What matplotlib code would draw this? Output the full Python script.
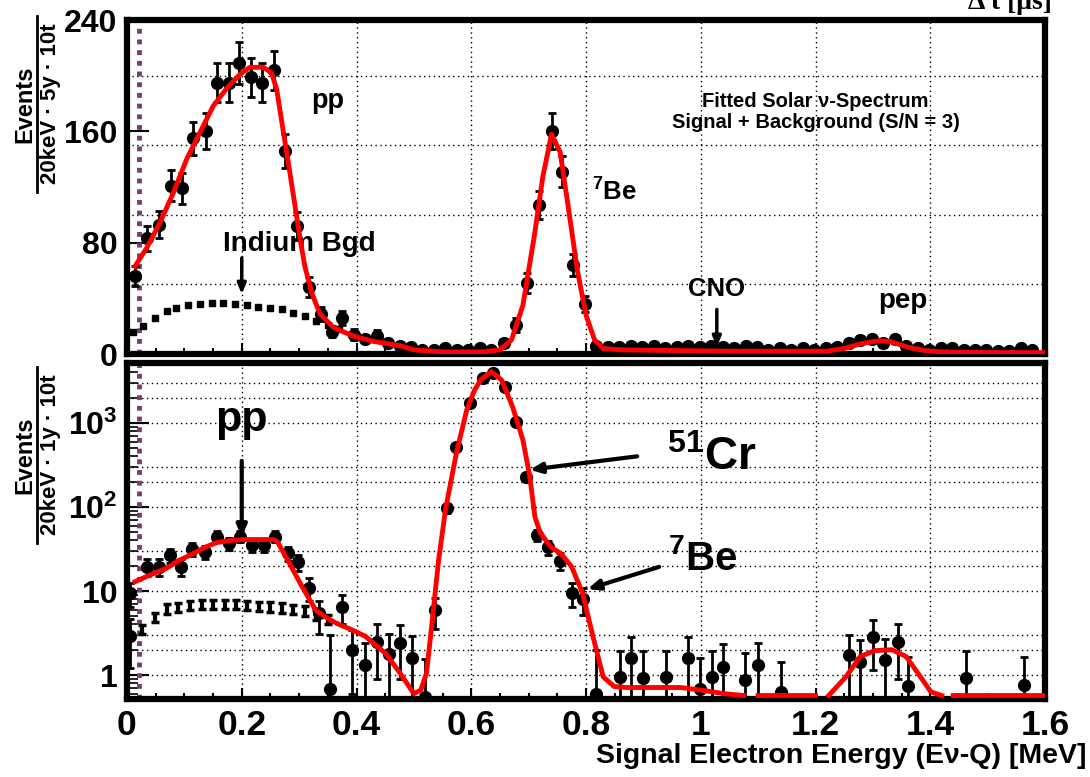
#!/usr/bin/env python3
"""Fitted solar neutrino spectrum: linear (5y) and log (1y, 51Cr source) panels."""

import matplotlib
matplotlib.use("Agg")
import matplotlib.pyplot as plt
from matplotlib.lines import Line2D
from matplotlib.ticker import MultipleLocator, FixedLocator, FixedFormatter, NullFormatter, LogLocator
import numpy as np

# ---------------- data ----------------
# top panel: events / (20 keV * 5 y * 10 t)
top_energy = [0.014, 0.034, 0.056, 0.076, 0.095, 0.115, 0.138, 0.156, 0.177, 0.196,
              0.216, 0.236, 0.256, 0.275, 0.296, 0.318, 0.338, 0.357, 0.375, 0.395,
              0.415, 0.435, 0.455, 0.475, 0.495, 0.515, 0.535, 0.555, 0.575, 0.595,
              0.615, 0.635, 0.657, 0.678, 0.698, 0.718, 0.740, 0.758, 0.778, 0.798,
              0.818, 0.838, 0.858, 0.878, 0.898, 0.918, 0.938, 0.958, 0.978, 0.998,
              1.018, 1.038, 1.058, 1.078, 1.098, 1.118, 1.138, 1.158, 1.178, 1.198,
              1.218, 1.238, 1.258, 1.278, 1.298, 1.318, 1.338, 1.358, 1.378, 1.398,
              1.418, 1.438, 1.458, 1.478, 1.498, 1.518, 1.538, 1.558, 1.578]
top_counts = [56, 83, 93, 121, 119, 155, 160, 195, 195, 209,
              199, 195, 204, 146, 92, 48, 29, 16, 26, 14,
              11, 13, 8, 6, 5, 3, 3, 4, 3, 3,
              4, 3, 8, 21, 51, 107, 160, 131, 64, 36,
              6, 5, 5, 6, 5, 6, 4, 5, 6, 5,
              6, 5, 4, 6, 5, 3, 4, 3, 4, 3,
              4, 5, 8, 10, 11, 8, 11, 6, 4, 3,
              4, 4, 3, 3, 3, 2, 2, 4, 3]
top_errors = [7, 9, 10, 11, 11, 12, 13, 14, 14, 15,
              14, 14, 14, 12, 10, 7, 5, 4, 5, 4,
              3, 4, 3, 2, 2, 2, 2, 2, 2, 2,
              2, 2, 3, 5, 7, 10, 13, 11, 8, 6,
              2, 2, 2, 2, 2, 2, 2, 2, 2, 2,
              2, 2, 2, 2, 2, 2, 2, 2, 2, 2,
              2, 2, 3, 3, 3, 3, 3, 2, 2, 2,
              2, 2, 2, 2, 2, 1, 1, 2, 2]

top_fit_energy = [0.014, 0.034, 0.057, 0.081, 0.104, 0.127, 0.15, 0.174, 0.197, 0.214,
                  0.238, 0.252, 0.261, 0.272, 0.284, 0.293, 0.302, 0.31, 0.322, 0.336,
                  0.36, 0.394, 0.43, 0.476, 0.50, 0.55, 0.62, 0.65, 0.67, 0.69,
                  0.71, 0.725, 0.74, 0.755, 0.77, 0.785, 0.80, 0.815, 0.83, 0.86,
                  0.95, 1.05, 1.15, 1.22, 1.25, 1.28, 1.31, 1.33, 1.36, 1.39,
                  1.42, 1.5, 1.6]
top_fit_counts = [63, 76, 94, 116, 140, 159, 178, 191, 201, 206,
                  206, 202, 190, 161, 130, 106, 82, 63, 44, 29,
                  19, 13, 9, 6, 3, 1.5, 1.5, 3, 10, 35,
                  85, 128, 158, 145, 103, 60, 28, 10, 4, 3,
                  2.5, 2, 2, 2, 4, 7.5, 9.5, 9, 5, 2.5,
                  1.5, 1, 1]

top_indium_energy = [0.011, 0.028, 0.048, 0.069, 0.086, 0.107, 0.127, 0.148, 0.168, 0.188,
                     0.209, 0.229, 0.249, 0.27, 0.29, 0.31, 0.33, 0.35, 0.37]
top_indium_counts = [15.7, 20, 26, 31, 33, 35, 36, 36.6, 36.6, 36,
                     35.3, 34, 33, 32, 29.7, 27, 24, 21, 18]

# bottom panel: events / (20 keV * 1 y * 10 t), with 51Cr source
bot_energy = [0.006, 0.006, 0.034, 0.055, 0.075, 0.094, 0.114, 0.136, 0.156, 0.177,
              0.197, 0.217, 0.238, 0.258, 0.28, 0.298, 0.317, 0.335, 0.353, 0.375,
              0.393, 0.415, 0.436, 0.457, 0.476, 0.497, 0.519, 0.537, 0.558, 0.574,
              0.598, 0.62, 0.638, 0.659, 0.678, 0.696, 0.714, 0.733, 0.755, 0.775,
              0.795, 0.818, 0.86, 0.878, 0.899, 0.939, 0.978, 0.999, 1.019, 1.039,
              1.077, 1.099, 1.14, 1.259, 1.278, 1.30, 1.321, 1.343, 1.361, 1.462,
              1.563]
bot_counts = [9.4, 2.9, 19.5, 19.5, 26.8, 19.5, 32, 29.4, 44.5, 37,
              44.5, 35, 35, 44.5, 28, 22, 10.8, 5.4, 0.69, 6.5,
              2.0, 1.3, 2.5, 1.8, 2.4, 1.6, 0.55, 5.9, 96, 525,
              1710, 3400, 3900, 2700, 1035, 230, 46, 33, 23, 9.5,
              8, 0.6, 0.95, 1.58, 0.91, 0.95, 1.58, 0.69, 0.95, 1.26,
              0.87, 1.31, 0.63, 1.73, 1.44, 2.86, 1.51, 2.49, 0.73, 0.91,
              0.76]
bot_errors = [3.0, 1.7, 4.4, 4.4, 5.2, 4.4, 5.7, 5.4, 6.7, 6.1,
              6.7, 5.9, 5.9, 6.7, 5.3, 4.7, 3.3, 2.3, 2.3, 2.5,
              1.4, 1.1, 1.6, 1.3, 1.5, 1.3, 1.0, 2.4, 10, 23,
              41, 58, 62, 52, 32, 15, 7, 6, 5, 3.1,
              2.8, 1.4, 1.0, 1.26, 1.0, 1.0, 1.26, 0.9, 1.0, 1.1,
              0.95, 1.1, 0.8, 1.3, 1.2, 1.7, 1.2, 1.6, 0.9, 1.0,
              0.9]

nan = float("nan")
bot_fit_energy = [0.014, 0.04, 0.069, 0.09, 0.116, 0.135, 0.156, 0.18, 0.203, 0.23,
                  0.255, 0.262, 0.28, 0.305, 0.329, 0.35, 0.366, 0.39, 0.415, 0.451,
                  0.476, 0.5, 0.512, 0.522, 0.531, 0.543, 0.555, 0.574, 0.592, 0.605,
                  0.616, 0.635, 0.653, 0.672, 0.69, 0.702, 0.711, 0.72, 0.738, 0.756,
                  0.775, 0.794, 0.812, 0.83, 0.849, 0.87, 0.92, 0.965, 1.008, 1.04,
                  1.075, nan, 1.10, 1.20, nan, 1.223, 1.253, 1.278, 1.303, 1.333,
                  1.358, 1.383, 1.401, 1.42, nan, 1.44, 1.60]
bot_fit_counts = [12.9, 15.5, 18.7, 23, 28, 33, 37.6, 40, 41, 41,
                  41, 38.7, 23.4, 11.3, 5.9, 4.7, 4.1, 3.5, 2.9, 1.8,
                  1.05, 0.6, 0.66, 1.05, 3.8, 23, 92, 437, 1420, 2400,
                  3240, 4100, 3240, 1560, 630, 230, 76, 50, 33.6, 28,
                  19.5, 9.4, 2.9, 0.95, 0.73, 0.71, 0.71, 0.71, 0.65, 0.6,
                  0.57, nan, 0.57, 0.57, nan, 0.57, 0.95, 1.66, 1.95, 2.0,
                  1.66, 0.95, 0.63, 0.57, nan, 0.57, 0.57]

bot_indium_energy = [0.027, 0.048, 0.069, 0.089, 0.11, 0.13, 0.15, 0.17, 0.19, 0.21,
                     0.23, 0.25, 0.27, 0.29, 0.31, 0.33, 0.35]
bot_indium_counts = [3.5, 4.9, 6.2, 6.4, 6.8, 7.0, 7.0, 7.0, 7.0, 6.8,
                     6.6, 6.5, 6.3, 6.1, 5.8, 5.2, 4.6]

x_ticks = [0, 0.2, 0.4, 0.6, 0.8, 1.0, 1.2, 1.4, 1.6]
x_tick_labels = ["0", "0.2", "0.4", "0.6", "0.8", "1", "1.2", "1.4", "1.6"]
top_y_ticks = [0, 80, 160, 240]
top_y_grid = [50, 100, 150, 200]
bot_y_ticks = [1, 10, 100, 1000]
bot_y_tick_labels = ["1", "10", r"$10^{2}$", r"$10^{3}$"]
bot_y_grid = [1, 2, 3, 10, 20, 30, 100, 200, 300, 1000, 2000, 3000]

W, H = 1090, 777
RED = "#ff0000"
PURPLE = "#7b3d70"
GRID_LS = (0, (1, 2.5))


def px_axes(fig, left, top, right, bottom):
    """Add axes using pixel edges measured from the top-left corner."""
    return fig.add_axes([left / W, 1 - bottom / H, (right - left) / W, (bottom - top) / H])


def style_frame(ax):
    for sp in ax.spines.values():
        sp.set_linewidth(4.5)
        sp.set_color("black")
    ax.set_xlim(0, 1.6)
    ax.xaxis.set_major_locator(FixedLocator(x_ticks))
    ax.xaxis.set_minor_locator(MultipleLocator(0.05))
    ax.tick_params(axis="x", which="major", direction="in", length=8, width=1.5,
                   top=False, labelsize=25.5, pad=7)
    ax.tick_params(axis="x", which="minor", direction="in", length=4, width=1.5, top=False)
    ax.tick_params(axis="y", which="major", direction="in", length=16, width=1.5,
                   right=False, labelsize=23, pad=7)
    ax.tick_params(axis="y", which="minor", direction="in", length=8, width=1.2, right=False)
    for x in x_ticks[1:-1]:
        ax.axvline(x, color="black", lw=1.0, ls=GRID_LS, zorder=1)
    ax.axvline(0.0215, color=PURPLE, lw=3.5, ls=(0, (1, 1.2)), zorder=2)


def y_fraction(fig, cy, denom):
    """ROOT style stacked y title: Events over the unit."""
    fig.text(25 / W, 1 - cy / H, "Events", rotation=90, ha="center", va="center", fontsize=17)
    fig.text(51 / W, 1 - cy / H, denom, rotation=90, ha="center", va="center", fontsize=16)
    half = 88
    fig.add_artist(Line2D([37 / W, 37 / W], [1 - (cy - half) / H, 1 - (cy + half) / H],
                          transform=fig.transFigure, color="black", lw=2))


def draw_top(fig):
    ax = px_axes(fig, 127, 20, 1045, 354)
    style_frame(ax)
    ax.set_ylim(0, 240)
    ax.yaxis.set_major_locator(FixedLocator(top_y_ticks))
    ax.xaxis.set_major_formatter(NullFormatter())
    for y in top_y_grid:
        ax.axhline(y, color="black", lw=1.0, ls=GRID_LS, zorder=1)

    ax.plot(top_indium_energy, top_indium_counts, ls="none", marker="s", ms=5,
            color="black", zorder=3)
    ax.errorbar(top_energy, top_counts, yerr=top_errors, fmt="o", color="black",
                ms=8.5, elinewidth=2, capsize=3, capthick=2, zorder=3, clip_on=True)
    ax.plot(top_fit_energy, top_fit_counts, color=RED, lw=3.5, zorder=4)

    ax.text(0.349, 177, "pp", fontsize=19.5, ha="center", va="baseline")
    ax.text(1.20, 177.5, "Fitted Solar ν-Spectrum", fontsize=14.5, ha="center", va="baseline")
    ax.text(1.20, 162.5, "Signal + Background (S/N = 3)", fontsize=14.5, ha="center", va="baseline")
    ax.text(0.81, 110, r"$^{7}$Be", fontsize=18.5, ha="left", va="baseline")
    ax.text(0.30, 74, "Indium Bgd", fontsize=20, ha="center", va="baseline")
    ax.text(1.027, 42, "CNO", fontsize=18.5, ha="center", va="baseline")
    ax.text(1.353, 33, "pep", fontsize=20, ha="center", va="baseline")
    arrow = dict(arrowstyle="-|>,head_length=0.6,head_width=0.25", lw=2.5, color="black")
    ax.annotate("", xy=(0.2, 41), xytext=(0.2, 71), arrowprops=arrow)
    ax.annotate("", xy=(1.028, 3), xytext=(1.028, 34), arrowprops=arrow)
    return ax


def draw_bottom(fig):
    ax = px_axes(fig, 127, 363, 1045, 699)
    ax.set_yscale("log")
    style_frame(ax)
    ax.set_ylim(0.518, 5180)
    ax.yaxis.set_major_locator(FixedLocator(bot_y_ticks))
    ax.yaxis.set_major_formatter(FixedFormatter(bot_y_tick_labels))
    ax.yaxis.set_minor_locator(LogLocator(base=10, subs=np.arange(2, 10)))
    ax.yaxis.set_minor_formatter(NullFormatter())
    ax.set_xticklabels(x_tick_labels)
    for y in bot_y_grid:
        ax.axhline(y, color="black", lw=1.0, ls=GRID_LS, zorder=1)

    ind = np.array(bot_indium_counts)
    ax.errorbar(bot_indium_energy, ind, yerr=ind * 0.13, fmt="none", ecolor="black",
                elinewidth=3, capsize=3, capthick=2.5, zorder=3)

    n = np.array(bot_counts)
    e = np.array(bot_errors)
    lo = np.minimum(e, n * 0.99)
    ax.errorbar(bot_energy, n, yerr=[lo, e], fmt="o", color="black", ms=8.5,
                elinewidth=2, capsize=3, capthick=2, zorder=3)
    ax.plot(bot_fit_energy, bot_fit_counts, color=RED, lw=3.5, zorder=4)

    ax.text(0.2, 800, "pp", fontsize=31, ha="center", va="baseline")
    ax.text(0.941, 275, r"$^{51}$Cr", fontsize=33, ha="left", va="baseline")
    ax.text(0.943, 17.8, r"$^{7}$Be", fontsize=29, ha="left", va="baseline")
    arrow = dict(arrowstyle="-|>,head_length=0.7,head_width=0.3", lw=3, color="black")
    ax.annotate("", xy=(0.2, 40.5), xytext=(0.2, 382), arrowprops=arrow)
    ax.annotate("", xy=(0.697, 275), xytext=(0.894, 405), arrowprops=arrow)
    ax.annotate("", xy=(0.798, 10.3), xytext=(0.932, 19.8), arrowprops=arrow)
    return ax


def main():
    plt.rcParams.update({
        "font.family": ["Liberation Sans", "DejaVu Sans"],
        "font.weight": "bold",
        "mathtext.fontset": "custom",
        "mathtext.rm": "Liberation Sans:bold",
        "mathtext.bf": "Liberation Sans:bold",
        "mathtext.it": "Liberation Sans:bold",
        "mathtext.sf": "Liberation Sans:bold",
        "mathtext.default": "bf",
    })
    fig = plt.figure(figsize=(W / 100, H / 100), dpi=100)

    draw_top(fig)
    draw_bottom(fig)

    y_fraction(fig, 104, "20keV · 5y · 10t")
    y_fraction(fig, 455, "20keV · 1y · 10t")

    fig.text(1086 / W, 1 - 763 / H, "Signal Electron Energy (Eν-Q) [MeV]",
             ha="right", va="baseline", fontsize=20.5)
    fig.text(1052 / W, 1 - 9 / H, "Δ t [μs]", ha="right", va="baseline", fontsize=20,
             family=["Liberation Serif", "DejaVu Serif"])

    fig.savefig("out.png", dpi=100)


if __name__ == "__main__":
    main()
